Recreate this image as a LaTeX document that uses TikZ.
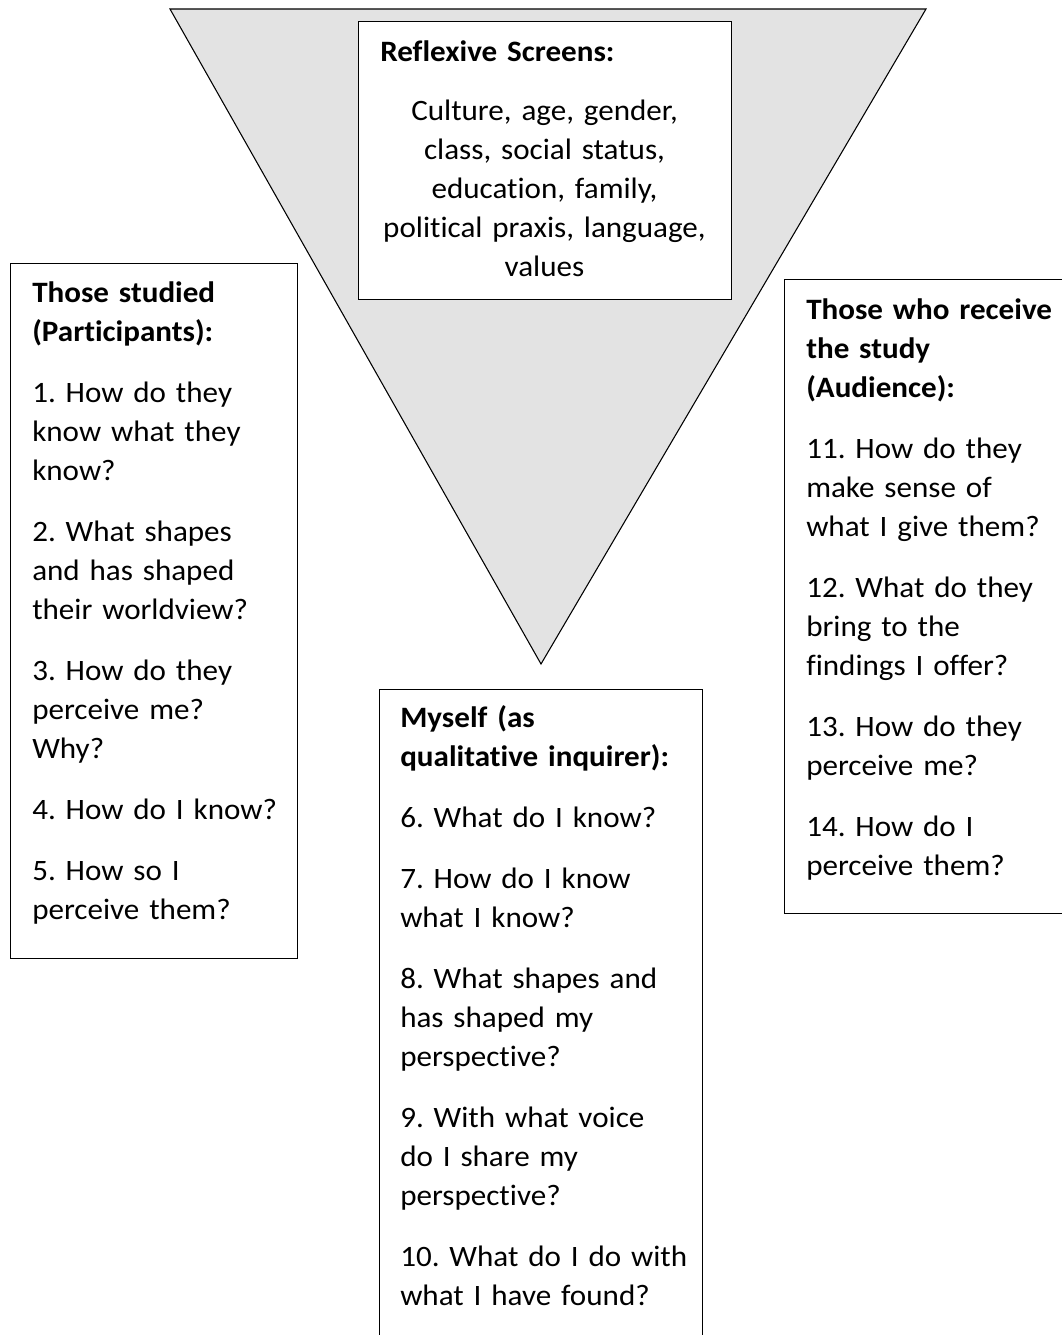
\documentclass[tikz,border=0pt]{standalone}
\usepackage{fontspec}
\setmainfont{Carlito}[Ligatures=NoCommon, FakeStretch=1.05]
\definecolor{screen}{RGB}{227,227,227}
\newcommand\qgap{\\[16.5pt]}
\begin{document}
\frenchspacing
\begin{tikzpicture}[x=0.75pt,y=-0.75pt,
  frame/.style={draw=black, line width=1.1pt, fill=white, anchor=north west, inner sep=0pt},
  txt/.style={anchor=base west, inner sep=0pt, text width=260pt, align=left,
    font=\fontsize{22.2pt}{29.25pt}\selectfont},
]
\useasboundingbox (0,0) rectangle (1062,1335);
\clip (0,0) rectangle (1062,1335);
\fill[white] (0,0) rectangle (1062,1335);

% inverted triangle of reflexive screens
\coordinate (tl) at (170,9);
\coordinate (tr) at (926,9);
\coordinate (tip) at (541,664);
\filldraw[fill=screen, draw=black, line width=0.8pt] (tl) -- (tr) -- (tip) -- cycle;

% boxes
\node[frame, minimum width=279.75pt, minimum height=208.5pt] (topbox) at (358,21) {};
\node[frame, minimum width=215.25pt, minimum height=521.25pt] (leftbox) at (10,263) {};
\node[frame, minimum width=216pt, minimum height=475.5pt] (rightbox) at (784,279) {};
\node[frame, minimum width=242.25pt, minimum height=492pt] (midbox) at (379,689) {};

% reflexive screens
\node[txt] (tophead) at (380,61.7) {\textbf{Reflexive Screens:}};
\node[txt, anchor=base, align=center, text width=270pt] (topbody) at (544.5,120)
  {Culture, age, gender,\\ class, social status,\\ education, family,\\ political praxis, language,\\ values};

% those studied
\node[txt] (lefttext) at (32,302.7) {%
  \textbf{Those studied}\\ \textbf{(Participants):}\qgap
  1. How do they\\ know what they\\ know?\qgap
  2. What shapes\\ and has shaped\\ their worldview?\qgap
  3. How do they\\ perceive me?\\ Why?\qgap
  4. How do I know?\qgap
  5. How so I\\ perceive them?};

% audience
\node[txt] (righttext) at (806,319) {%
  \textbf{Those who receive}\\ \textbf{the study}\\ \textbf{(Audience):}\qgap
  11. How do they\\ make sense of\\ what I give them?\qgap
  12. What do they\\ bring to the\\ findings I offer?\qgap
  13. How do they\\ perceive me?\qgap
  14. How do I\\ perceive them?};

% myself
\node[txt] (midtext) at (400,727) {%
  \textbf{Myself (as}\\ \textbf{qualitative inquirer):}\qgap
  6. What do I know?\qgap
  7. How do I know\\ what I know?\qgap
  8. What shapes and\\ has shaped my\\ perspective?\qgap
  9. With what voice\\ do I share my\\ perspective?\qgap
  10. What do I do with\\ what I have found?};
\end{tikzpicture}
\end{document}
